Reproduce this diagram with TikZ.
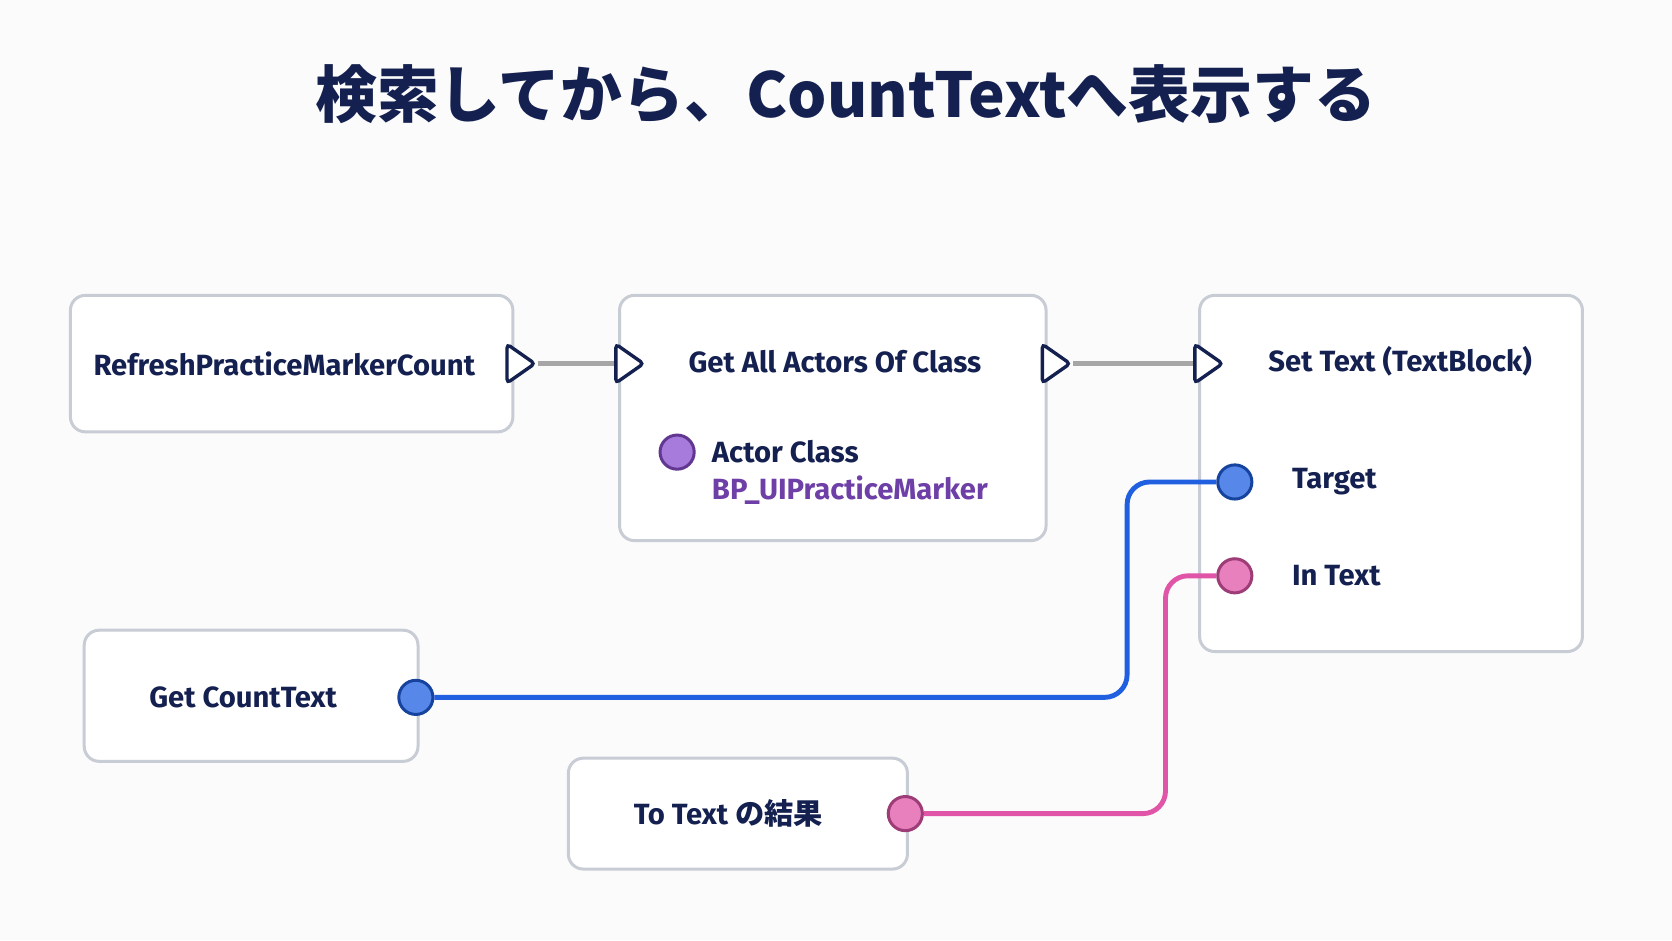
\documentclass[tikz,border=0pt]{standalone}
\usepackage{fontspec}
\setmainfont{Fira Sans}
\newfontfamily\cjk{Noto Sans CJK JP}
\usetikzlibrary{shapes.geometric}
\definecolor{navy}{HTML}{14204F}
\definecolor{wireblue}{HTML}{1F5FE0}
\definecolor{wirepink}{HTML}{E055A8}
\definecolor{pinpurple}{HTML}{8A4FD0}
\definecolor{boxline}{HTML}{C8CCD4}
\tikzset{
  bp/.style={draw=boxline,line width=0.8pt,fill=white,rounded corners=4pt},
  exec/.style={isosceles triangle,isosceles triangle apex angle=70,draw=navy,
    fill=white,line width=0.9pt,minimum width=0.3cm,minimum height=0.26cm,
    inner sep=0pt,rounded corners=1pt},
  pin/.style={circle,draw=#1!70!black,fill=#1!75!white,line width=0.8pt,
    minimum size=0.32cm,inner sep=0pt},
  lbl/.style={text=navy,font=\bfseries\fontsize{7.8}{9}\selectfont,inner sep=0pt}
}
\begin{document}
\begin{tikzpicture}[x=0.01cm,y=-0.01cm]
  \fill[white!97!gray] (0,0) rectangle (1568,882);
  \node[text=navy,font=\cjk\bfseries\fontsize{16.5}{20}\selectfont] (title) at (793,88)
    {検索してから、CountTextへ表示する};
  % boxes
  \draw[bp] (66,277) rectangle (481,405);
  \draw[bp] (581,277) rectangle (981,507);
  \draw[bp] (1125,277) rectangle (1484,611);
  \draw[bp] (79,591) rectangle (392,714);
  \draw[bp] (533,711) rectangle (851,815);
  % labels
  \node[lbl,anchor=west] (refresh) at (87,341) {RefreshPracticeMarkerCount};
  \node[lbl] (getall) at (783,339) {Get All Actors Of Class};
  \node[lbl] (settext) at (1313,339) {Set Text (TextBlock)};
  \node[lbl,anchor=west] (actorcls) at (667,424) {Actor Class};
  \node[lbl,anchor=west,text=pinpurple!80!black] (bpname) at (667,460) {BP\_UIPracticeMarker};
  \node[lbl,anchor=west] (target) at (1211,452) {Target};
  \node[lbl,anchor=west] (intext) at (1211,540) {In Text};
  \node[lbl] (getcount) at (228,654) {Get CountText};
  \node[lbl] (totext) at (683,763) {To Text {\cjk\bfseries の結果}};
  % exec pins
  \node[exec] (refreshout) at (485,341) {};
  \node[exec] (getallin) at (587,341) {};
  \node[exec] (getallout) at (987,341) {};
  \node[exec] (settextin) at (1130,341) {};
  \draw[gray!70,line width=1.2pt] (refreshout) -- (getallin);
  \draw[gray!70,line width=1.2pt] (getallout) -- (settextin);
  % data pins
  \node[pin=pinpurple] (classpin) at (635,424) {};
  \node[pin=wireblue] (targetpin) at (1158,452) {};
  \node[pin=wirepink] (intextpin) at (1158,540) {};
  \node[pin=wireblue] (countpin) at (390,654) {};
  \node[pin=wirepink] (resultpin) at (849,763) {};
  \draw[wireblue,line width=1.3pt,rounded corners=6pt]
    (countpin) -- (1057,654) -- (1057,452) -- (targetpin);
  \draw[wirepink,line width=1.3pt,rounded corners=6pt]
    (resultpin) -- (1093,763) -- (1093,540) -- (intextpin);
\end{tikzpicture}
\end{document}
